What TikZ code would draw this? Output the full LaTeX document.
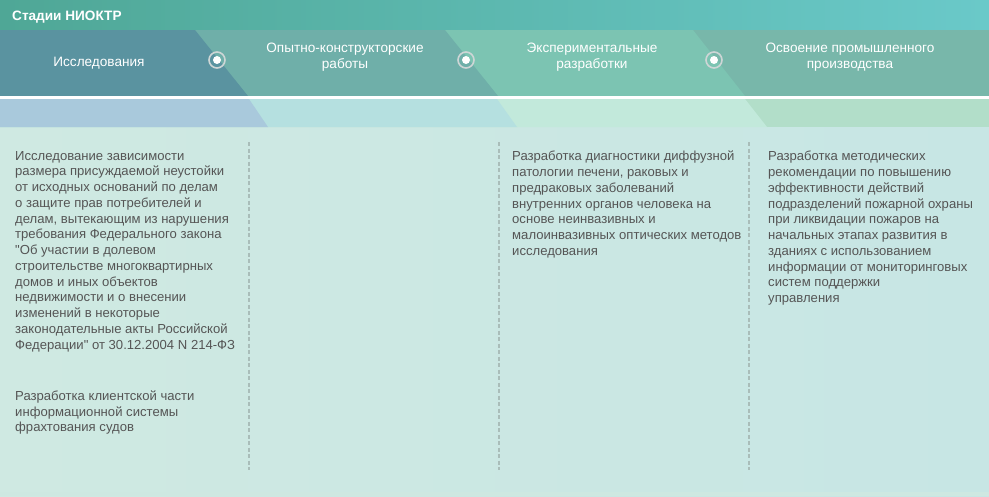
\documentclass[tikz,border=0pt]{standalone}
\usepackage{fontspec}
\setmainfont{Liberation Sans}
\newfontfamily\plainquote{Liberation Sans}
\newcommand{\dq}{{\plainquote"}}
\usetikzlibrary{shadings}
\definecolor{barL}{HTML}{4FA796}
\definecolor{barR}{HTML}{6AC9C9}
\definecolor{segA}{HTML}{5A93A0}
\definecolor{segB}{HTML}{6FAFA9}
\definecolor{segC}{HTML}{7CC4B2}
\definecolor{segD}{HTML}{78B7AA}
\definecolor{lightA}{HTML}{A9C9DC}
\definecolor{lightB}{HTML}{B5E0E0}
\definecolor{lightC}{HTML}{C2E9DB}
\definecolor{lightD}{HTML}{B2DEC9}
\definecolor{bgL}{HTML}{CFE9E2}
\definecolor{bgR}{HTML}{C7E6E4}
\definecolor{dashc}{HTML}{A9BDB9}
\definecolor{txt}{HTML}{555555}
\definecolor{ringc}{HTML}{B9C4C4}
\tikzset{
  stagelabel/.style={text=white, align=center, inner sep=0pt, font=\fontsize{13.6}{16}\selectfont},
  bodytext/.style={text=txt, align=left, anchor=north west, inner sep=0pt, font=\fontsize{13.1}{15.75}\selectfont},
  sepline/.style={dashc, line width=1.2pt, dash pattern=on 4pt off 2.5pt},
}
\begin{document}
\begin{tikzpicture}[x=1pt,y=-1pt]
\useasboundingbox (0,0) rectangle (989,496);
% background
\shade[left color=bgL, right color=bgR] (0,127) rectangle (989,496);
\fill[bgR!90!black!5!bgL] (0,492) rectangle (989,496);
% title bar
\shade[left color=barL, right color=barR] (0,0) rectangle (989,30);
\node[anchor=west, text=white, inner sep=0pt, font=\fontsize{13.6}{15}\selectfont\bfseries] (title) at (12,17.5) {Стадии НИОКТР};
% stage band
\fill[segD] (0,30) rectangle (989,96);
\fill[segC] (0,30) -- (693,30) -- (745,96) -- (0,96) -- cycle;
\fill[segB] (0,30) -- (445,30) -- (498,96) -- (0,96) -- cycle;
\fill[segA] (0,30) -- (195,30) -- (248,96) -- (0,96) -- cycle;
% white separator
\fill[white] (0,96) rectangle (989,99);
% light band
\fill[lightD] (0,99) rectangle (989,127);
\fill[lightC] (0,99) -- (745,99) -- (767,127) -- (0,127) -- cycle;
\fill[lightB] (0,99) -- (497,99) -- (517,127) -- (0,127) -- cycle;
\fill[lightA] (0,99) -- (249,99) -- (268,127) -- (0,127) -- cycle;
% markers
\foreach \n/\x in {m1/217, m2/466, m3/714}{
  \draw[ringc!70!white, line width=1.6pt] (\x,60) circle (8pt);
  \node[circle, fill=white, minimum size=8pt, inner sep=0pt] (\n) at (\x,60) {};
}
% stage labels
\node[stagelabel] (s1) at (99,63.5) {Исследования};
\node[stagelabel] (s2) at (345,57.5) {Опытно-конструкторские\\работы};
\node[stagelabel] (s3) at (592,57.5) {Экспериментальные\\разработки};
\node[stagelabel] (s4) at (850,57.5) {Освоение промышленного\\производства};
% dashed separators
\foreach \x in {249,499,749}{
  \draw[sepline] (\x,142) -- (\x,470);
}
% body texts
\node[bodytext] (t1) at (15,151) {Исследование зависимости\\размера присуждаемой неустойки\\от исходных оснований по делам\\о защите прав потребителей и\\делам, вытекающим из нарушения\\требования Федерального закона\\\dq Об участии в долевом\\строительстве многоквартирных\\домов и иных объектов\\недвижимости и о внесении\\изменений в некоторые\\законодательные акты Российской\\Федерации\dq{} от 30.12.2004 N 214-ФЗ};
\node[bodytext] (t2) at (15,390.5) {Разработка клиентской части\\информационной системы\\фрахтования судов};
\node[bodytext] (t3) at (512,151) {Разработка диагностики диффузной\\патологии печени, раковых и\\предраковых заболеваний\\внутренних органов человека на\\основе неинвазивных и\\малоинвазивных оптических методов\\исследования};
\node[bodytext] (t4) at (768,151) {Разработка методических\\рекомендации по повышению\\эффективности действий\\подразделений пожарной охраны\\при ликвидации пожаров на\\начальных этапах развития в\\зданиях с использованием\\информации от мониторинговых\\систем поддержки\\управления};
\end{tikzpicture}
\end{document}
